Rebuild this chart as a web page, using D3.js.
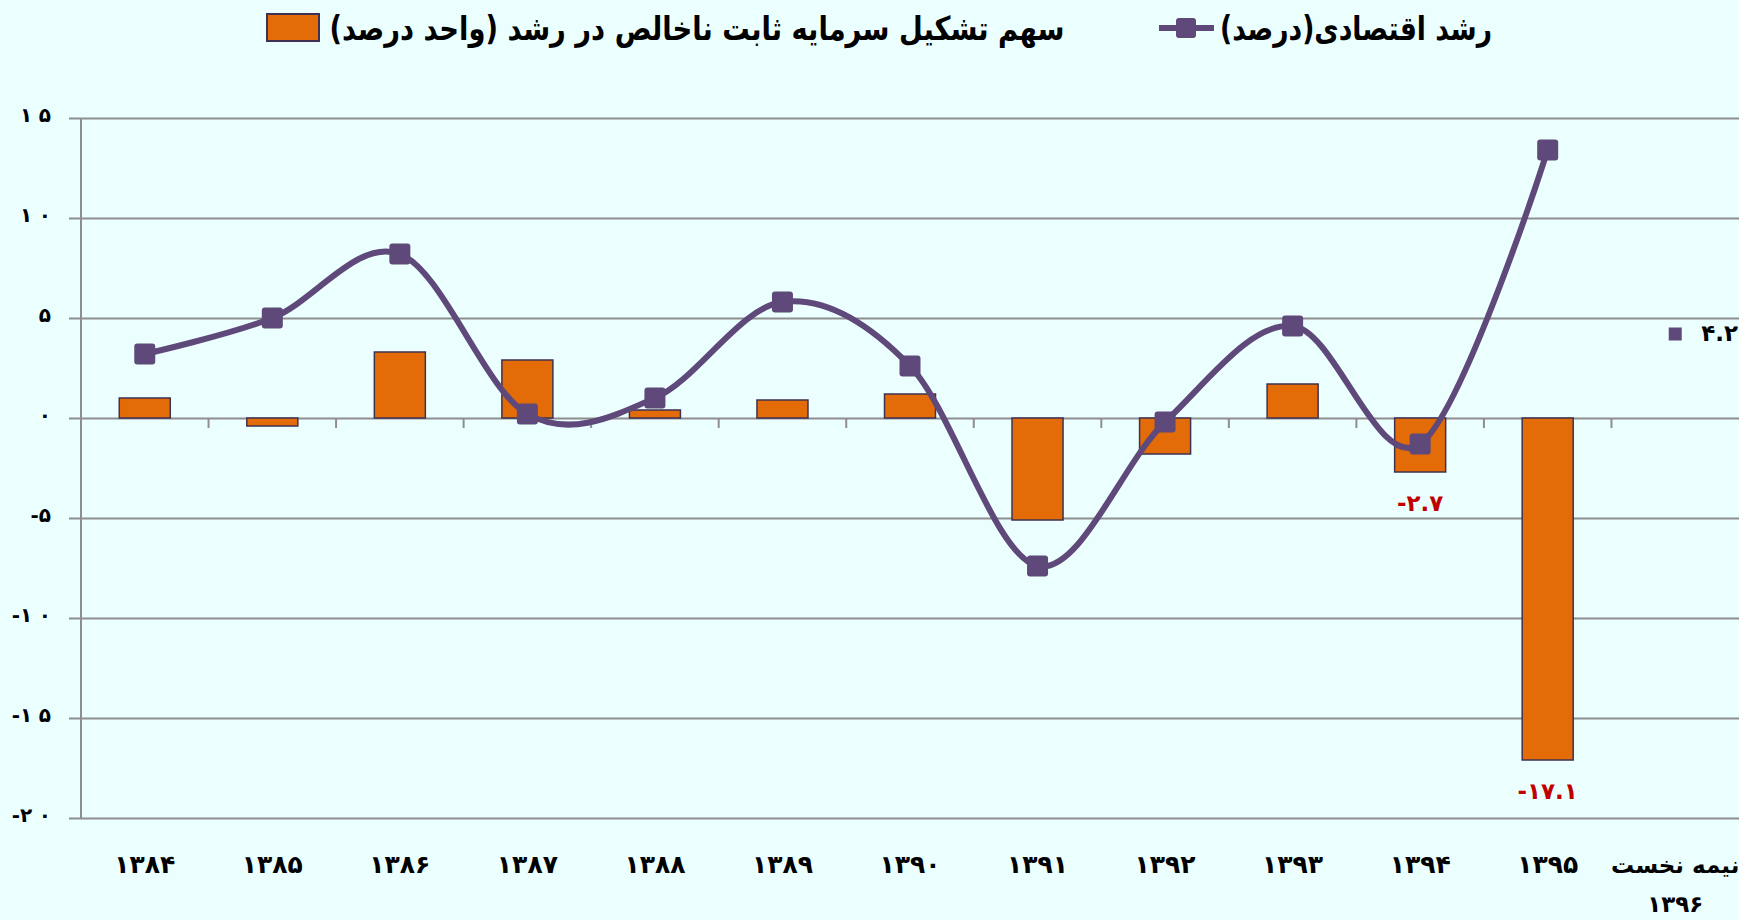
<!DOCTYPE html>
<html><head><meta charset="utf-8">
<script src="https://cdn.jsdelivr.net/npm/d3@7"></script>
<style>
body{margin:0;background:#ECFFFF;}
svg{display:block;font-family:"DejaVu Sans",sans-serif;}
</style>
</head><body><svg id="c" width="1739" height="920"></svg>
<script>
// ---- data ----
const categories = ["۱۳۸۴","۱۳۸۵","۱۳۸۶","۱۳۸۷","۱۳۸۸","۱۳۸۹","۱۳۹۰","۱۳۹۱","۱۳۹۲","۱۳۹۳","۱۳۹۴","۱۳۹۵","نیمه نخست ۱۳۹۶"];
const barValues = [1.0,-0.4,3.3,2.9,0.4,0.9,1.2,-5.1,-1.8,1.7,-2.7,-17.1,0];
const lineValues = [3.2,5.0,8.2,0.2,1.0,5.8,2.6,-7.4,-0.2,4.6,-1.3,13.4];
const halfYearGrowth = 4.2;
const labeledBars = ["۱۳۹۴","۱۳۹۵"];
const yTicks = [-20,-15,-10,-5,0,5,10,15];
const barSeriesName = "سهم تشکیل سرمایه ثابت ناخالص در رشد (واحد درصد)";
const lineSeriesName = "رشد اقتصادی(درصد)";

// ---- helpers ----
const fa = "۰۱۲۳۴۵۶۷۸۹";
const toFa = v => String(v).replace(/[0-9]/g, d => fa[+d]);

const svg = d3.select("#c");
const plotL = 81, plotR = 1739, plotT = 118, plotB = 818;
const orange = "#E36C09", purple = "#5F497A", grid = "#8E8E8E";

const x = d3.scaleBand().domain(categories).range([plotL, plotR]).paddingInner(0.6).paddingOuter(0.3);
const y = d3.scaleLinear().domain([-20, 15]).range([plotB, plotT]);
const cx = c => x(c) + x.bandwidth() / 2;

// gridlines + y labels via axis
const yAxis = svg.append("g").attr("transform", `translate(69,0)`)
  .call(d3.axisLeft(y).tickValues(yTicks).tickSize(-(plotR - 69)).tickPadding(18)
    .tickFormat(v => (v < 0 ? "-" : "") + toFa(Math.abs(v)).split("").join("\u2004")));
yAxis.select(".domain").remove();
yAxis.selectAll(".tick line").attr("stroke", grid).attr("stroke-width", 2);
yAxis.selectAll(".tick text").attr("font-size", 20).attr("font-weight", "bold")
  .attr("fill", "#000").attr("font-family", "DejaVu Sans").attr("dy", "0.15em");

// y axis line
svg.append("line").attr("x1", plotL).attr("x2", plotL).attr("y1", y(15)).attr("y2", y(-20))
  .attr("stroke", grid).attr("stroke-width", 2);

// x ticks at band boundaries on zero line
const half = x.step() * x.paddingInner() / 2;
svg.append("g").selectAll("line").data(categories.slice(1)).join("line")
  .attr("x1", c => x(c) - half).attr("x2", c => x(c) - half)
  .attr("y1", y(0)).attr("y2", y(0) + 10)
  .attr("stroke", grid).attr("stroke-width", 2);

// bars
svg.append("g").selectAll("rect").data(categories).join("rect")
  .attr("x", c => x(c))
  .attr("width", x.bandwidth())
  .attr("y", (c, i) => y(Math.max(0, barValues[i])))
  .attr("height", (c, i) => Math.abs(y(barValues[i]) - y(0)))
  .attr("fill", orange)
  .attr("stroke", (c, i) => barValues[i] === 0 ? "#9a9a9a" : "#3F3151")
  .attr("stroke-width", 1.5);

// bar data labels
svg.append("g").selectAll("text").data(labeledBars).join("text")
  .attr("x", c => cx(c))
  .attr("y", c => y(barValues[categories.indexOf(c)]) + 32)
  .attr("text-anchor", "middle").attr("dominant-baseline", "middle")
  .attr("font-size", 23).attr("font-weight", "bold").attr("fill", "#C00000")
  .text(c => { const v = barValues[categories.indexOf(c)]; return (v < 0 ? "-" : "") + toFa(Math.abs(v).toFixed(1)); });

// line
const lineCats = categories.slice(0, lineValues.length);
const line = d3.line().x((d, i) => cx(lineCats[i])).y(d => y(d)).curve(d3.curveCatmullRom.alpha(0));
svg.append("path").datum(lineValues).attr("d", line)
  .attr("fill", "none").attr("stroke", purple).attr("stroke-width", 6).attr("stroke-linejoin", "round");
svg.append("g").selectAll("rect").data(lineValues).join("rect")
  .attr("x", (d, i) => cx(lineCats[i]) - 10.5).attr("y", d => y(d) - 10.5)
  .attr("width", 21).attr("height", 21).attr("rx", 3)
  .attr("fill", purple);

// separate half-year point
const lastCat = categories[categories.length - 1];
svg.append("rect").attr("x", cx(lastCat) - 6.5).attr("y", y(halfYearGrowth) - 6.5)
  .attr("width", 13).attr("height", 13).attr("fill", purple);
svg.append("text").attr("x", cx(lastCat) + 26).attr("y", y(halfYearGrowth))
  .attr("dominant-baseline", "middle").attr("font-size", 23).attr("font-weight", "bold")
  .text(toFa(halfYearGrowth.toFixed(1)));

// x labels
const xl = svg.append("g").selectAll("text").data(categories).join("text")
  .attr("x", c => cx(c)).attr("y", 866)
  .attr("text-anchor", "middle").attr("dominant-baseline", "middle")
  .attr("font-size", 25).attr("font-weight", "bold").attr("fill", "#000");
xl.each(function(c) {
  const parts = c.split(" ");
  const t = d3.select(this);
  if (parts.length > 1) {
    const num = parts.pop();
    t.append("tspan").attr("x", cx(c)).attr("direction", "rtl").attr("font-size", 23).text(parts.join(" "));
    t.append("tspan").attr("x", cx(c)).attr("dy", 39).attr("font-size", 23).text(num);
  } else t.text(c);
});

// legend
const lg = svg.append("g");
lg.append("rect").attr("x", 267).attr("y", 14).attr("width", 52).attr("height", 27)
  .attr("fill", orange).attr("stroke", "#3F3151").attr("stroke-width", 2);
lg.append("text").attr("x", 697).attr("y", 30).attr("direction", "rtl")
  .attr("text-anchor", "middle").attr("dominant-baseline", "middle")
  .attr("font-size", 33).attr("font-weight", "bold")
  .attr("textLength", 735).attr("lengthAdjust", "spacingAndGlyphs")
  .text(barSeriesName);
lg.append("line").attr("x1", 1159).attr("x2", 1214).attr("y1", 28).attr("y2", 28)
  .attr("stroke", purple).attr("stroke-width", 6);
lg.append("rect").attr("x", 1176).attr("y", 18).attr("width", 20).attr("height", 20).attr("rx", 3).attr("fill", purple);
lg.append("text").attr("x", 1356).attr("y", 30).attr("direction", "rtl")
  .attr("text-anchor", "middle").attr("dominant-baseline", "middle")
  .attr("font-size", 33).attr("font-weight", "bold")
  .attr("textLength", 272).attr("lengthAdjust", "spacingAndGlyphs")
  .text(lineSeriesName);
</script>
</body></html>
